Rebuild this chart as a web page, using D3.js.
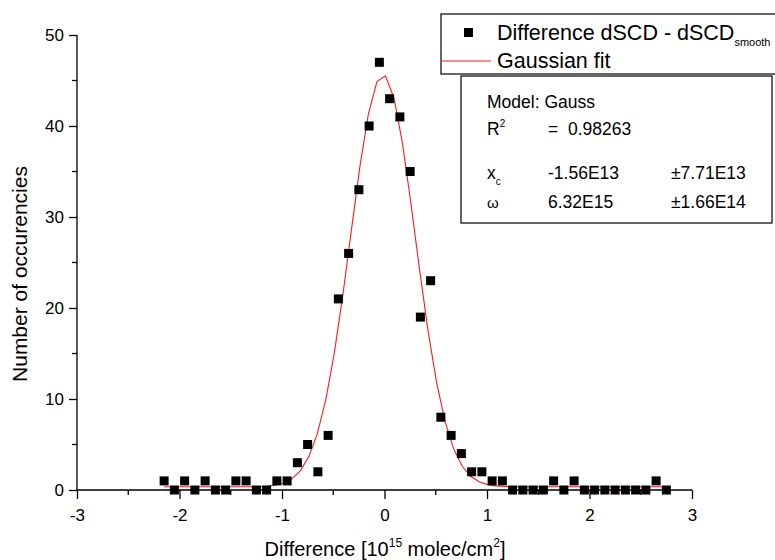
<!DOCTYPE html>
<html>
<head>
<meta charset="utf-8">
<script src="https://cdn.jsdelivr.net/npm/d3@7"></script>
<style>
  html, body { margin: 0; padding: 0; background: #fff; }
  svg { display: block; font-family: "Liberation Sans", Arial, sans-serif; }
  text { white-space: pre; }
</style>
</head>
<body>
<svg id="chart" width="775" height="560"></svg>
<script>
// Histogram of the dSCD residuals (bin centres in 10^15 molec/cm^2)
const binCenters = [-2.15, -2.05, -1.95, -1.85, -1.75, -1.65, -1.55, -1.45, -1.35, -1.25,
  -1.15, -1.05, -0.95, -0.85, -0.75, -0.65, -0.55, -0.45, -0.35, -0.25,
  -0.15, -0.05, 0.05, 0.15, 0.25, 0.35, 0.45, 0.55, 0.65, 0.75,
  0.85, 0.95, 1.05, 1.15, 1.25, 1.35, 1.45, 1.55, 1.65, 1.75,
  1.85, 1.95, 2.05, 2.15, 2.25, 2.35, 2.45, 2.55, 2.65, 2.75];
const counts = [1, 0, 1, 0, 1, 0, 0, 1, 1, 0,
  0, 1, 1, 3, 5, 2, 6, 21, 26, 33,
  40, 47, 43, 41, 35, 19, 23, 8, 6, 4,
  2, 2, 1, 1, 0, 0, 0, 0, 1, 0,
  1, 0, 0, 0, 0, 0, 0, 0, 1, 0];

// Gauss model parameters (x in 10^15 molec/cm^2)
const fitXc = -0.0156;     // x_c = -1.56E13
const fitW = 0.632;        // w = 6.32E15
const fitY0 = 0.35;        // offset
const fitHeight = 45.3;    // peak height above offset
const fitSamples = 60;     // points of the fitted curve across the data range

const xTicks = [-3, -2, -1, 0, 1, 2, 3];
const yTicks = [0, 10, 20, 30, 40, 50];

const statsRows = [
  ["Model: Gauss", "", ""],
  ["R2", "=  0.98263", ""],
  ["xc", "-1.56E13", "\u00b17.71E13"],
  ["\u03c9", "6.32E15", "\u00b11.66E14"]
];

const svg = d3.select("#chart");
const x = d3.scaleLinear().domain([-3, 3]).range([77, 692]);
const y = d3.scaleLinear().domain([0, 50]).range([490, 35]);

// Axes
const xAxis = d3.axisBottom(x).tickValues(xTicks).tickSize(9).tickPadding(10).tickFormat(d => String(d));
const yAxis = d3.axisLeft(y).tickValues(yTicks).tickSize(8).tickPadding(5).tickFormat(d => String(d));

const gx = svg.append("g").attr("transform", `translate(0,${y(0)})`).call(xAxis);
const gy = svg.append("g").attr("transform", `translate(${x(-3)},0)`).call(yAxis);
[gx, gy].forEach(g => {
  g.select(".domain").attr("stroke", "#000").attr("stroke-width", 1.3);
  g.selectAll(".tick line").attr("stroke", "#000").attr("stroke-width", 1.3);
  g.selectAll(".tick text").attr("fill", "#000").style("font-size", "17px")
    .style("font-family", "Liberation Sans, Arial, sans-serif");
});
gx.select(".domain").attr("d", `M${x(-3)},0H${x(3)}`);
gy.select(".domain").attr("d", `M0,${y(0)}V${y(50)}`);

// Minor ticks
const xMinor = d3.range(-2.5, 3, 1);
svg.append("g").selectAll("line").data(xMinor).join("line")
  .attr("x1", d => x(d)).attr("x2", d => x(d))
  .attr("y1", y(0)).attr("y2", y(0) + 5)
  .attr("stroke", "#000").attr("stroke-width", 1.3);
const yMinor = d3.range(5, 50, 10);
svg.append("g").selectAll("line").data(yMinor).join("line")
  .attr("x1", x(-3) - 5).attr("x2", x(-3))
  .attr("y1", d => y(d)).attr("y2", d => y(d))
  .attr("stroke", "#000").attr("stroke-width", 1.3);

// Axis titles
const xTitle = svg.append("text").attr("x", 385).attr("y", 556)
  .attr("text-anchor", "middle").style("font-size", "20px").attr("fill", "#000");
xTitle.append("tspan").text("Difference [10");
xTitle.append("tspan").attr("dy", -9).style("font-size", "12px").text("15");
xTitle.append("tspan").attr("dy", 9).text(" molec/cm");
xTitle.append("tspan").attr("dy", -9).style("font-size", "12px").text("2");
xTitle.append("tspan").attr("dy", 9).text("]");

svg.append("text").attr("transform", "translate(27,274) rotate(-90)")
  .attr("text-anchor", "middle").style("font-size", "21px").attr("fill", "#000")
  .text("Number of occurencies");

// Fitted Gaussian curve
const x0 = binCenters[0], x1 = binCenters[binCenters.length - 1];
const fitX = d3.range(fitSamples).map(i => x0 + (x1 - x0) * i / (fitSamples - 1));
const gauss = v => fitY0 + fitHeight * Math.exp(-2 * Math.pow((v - fitXc) / fitW, 2));
svg.append("path")
  .datum(fitX)
  .attr("fill", "none").attr("stroke", "#ff1a1a").attr("stroke-width", 1.1)
  .attr("d", d3.line().x(d => x(d)).y(d => y(gauss(d))));

// Histogram points
const sq = 9;
svg.append("g").selectAll("rect").data(binCenters).join("rect")
  .attr("x", (d) => x(d) - sq / 2)
  .attr("y", (d, i) => y(counts[i]) - sq / 2)
  .attr("width", sq).attr("height", sq).attr("fill", "#000");

// Legend
const leg = svg.append("g");
leg.append("rect").attr("x", 441).attr("y", 14).attr("width", 340).attr("height", 60)
  .attr("fill", "#fff").attr("stroke", "#000").attr("stroke-width", 1.2);
leg.append("rect").attr("x", 464).attr("y", 28).attr("width", 9).attr("height", 9).attr("fill", "#000");
const l1 = leg.append("text").attr("x", 497).attr("y", 40).style("font-size", "21.5px").attr("fill", "#000");
l1.append("tspan").text("Difference dSCD - dSCD");
l1.append("tspan").attr("dy", 6).style("font-size", "11px").text("smooth");
leg.append("line").attr("x1", 441).attr("x2", 491).attr("y1", 61).attr("y2", 61)
  .attr("stroke", "#ff1a1a").attr("stroke-width", 1.1);
leg.append("text").attr("x", 497).attr("y", 68).style("font-size", "21.5px").attr("fill", "#000")
  .text("Gaussian fit");

// Fit statistics box
const st = svg.append("g");
st.append("rect").attr("x", 461).attr("y", 76).attr("width", 311).attr("height", 147)
  .attr("fill", "#fff").attr("stroke", "#000").attr("stroke-width", 1.2);
const rowY = [108, 135, 179, 208];
const colX = [487, 548, 671];
statsRows.forEach((row, i) => {
  row.forEach((txt, j) => {
    if (!txt) return;
    const t = st.append("text").attr("x", colX[j]).attr("y", rowY[i])
      .style("font-size", "17.5px").attr("fill", "#000");
    if (i === 0 && j === 0) {
      t.text(txt);
    } else if (j === 0 && txt === "R2") {
      t.append("tspan").text("R");
      t.append("tspan").attr("dy", -8).style("font-size", "10px").text("2");
    } else if (j === 0 && txt === "xc") {
      t.append("tspan").text("x");
      t.append("tspan").attr("dy", 6).style("font-size", "10px").text("c");
    } else if (j === 0) {
      t.style("font-size", "15px").text(txt);
    } else {
      t.text(txt);
    }
  });
});
</script>
</body>
</html>
